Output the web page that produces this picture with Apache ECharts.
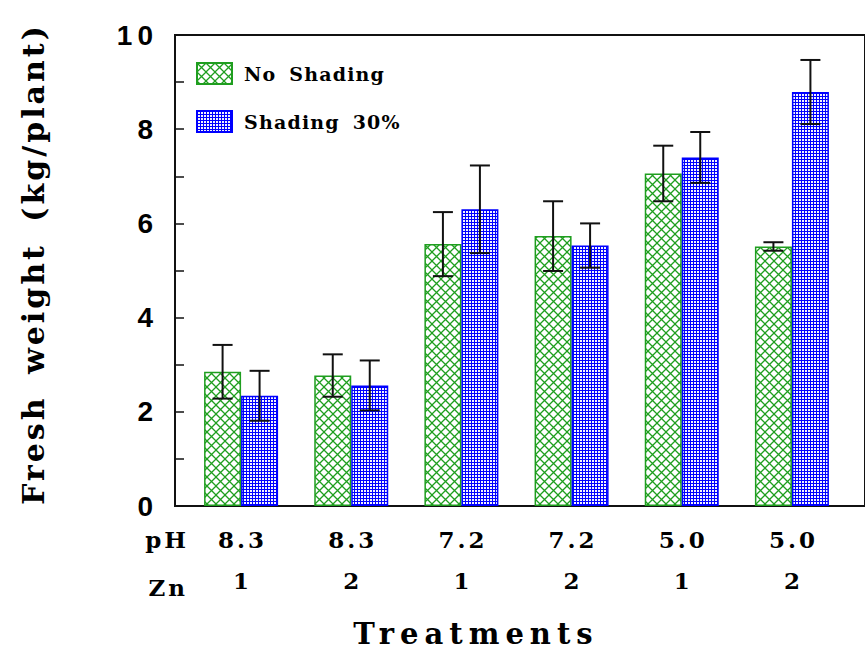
<!DOCTYPE html>
<html>
<head>
<meta charset="utf-8">
<script src="https://cdn.jsdelivr.net/npm/echarts@6/dist/echarts.min.js"></script>
<style>
  html, body { margin: 0; padding: 0; background: #fff; }
  #chart { width: 865px; height: 661px; }
  #chart text[style*="30px"] { letter-spacing: 3px; word-spacing: 8px; }
  #chart text[style*="29px"] { letter-spacing: 6px; }
  #chart text[style*="28px"] { letter-spacing: 5px; }
  #chart text[style*="23px"] { letter-spacing: 3px; }
  #chart text[style*="19px"] { letter-spacing: 1.2px; word-spacing: 5px; }
</style>
</head>
<body>
<div id="chart"></div>
<script>
// ---- data ----
const phLabels = ['8.3', '8.3', '7.2', '7.2', '5.0', '5.0'];
const znLabels = ['1', '2', '1', '2', '1', '2'];
const noShading = [2.85, 2.77, 5.56, 5.73, 7.06, 5.51];
const noShadingErr = [0.57, 0.45, 0.68, 0.74, 0.59, 0.09];
const shading30 = [2.34, 2.56, 6.30, 5.53, 7.40, 8.79];
const shading30Err = [0.53, 0.53, 0.93, 0.47, 0.54, 0.68];
const seriesNames = ['No Shading', 'Shading 30%'];
const yMin = 0, yMax = 10, yStep = 2;

// ---- style ----
const BAR_W = 37;
const serif = 'DejaVu Serif';
const sans = 'Liberation Sans';

function greenPattern() {
  const c = document.createElement('canvas');
  c.width = 9; c.height = 9;
  const g = c.getContext('2d');
  g.fillStyle = '#ffffff'; g.fillRect(0, 0, 9, 9);
  g.strokeStyle = '#1f9e1f'; g.lineWidth = 1.3;
  g.beginPath();
  g.moveTo(-1, -1); g.lineTo(10, 10);
  g.moveTo(10, -1); g.lineTo(-1, 10);
  g.stroke();
  return { image: c, repeat: 'repeat', imageWidth: 9, imageHeight: 9 };
}
function bluePattern() {
  const c = document.createElement('canvas');
  c.width = 3; c.height = 3;
  const g = c.getContext('2d');
  g.fillStyle = '#f2f2ff'; g.fillRect(0, 0, 3, 3);
  g.fillStyle = '#0000ff';
  g.fillRect(0, 0, 3, 1);
  g.fillRect(0, 0, 1, 3);
  return { image: c, repeat: 'repeat', imageWidth: 3, imageHeight: 3 };
}

function errSeries(name, vals, errs, side) {
  return {
    type: 'custom',
    name: name + ' err',
    xAxisIndex: 1, yAxisIndex: 1,
    z: 5,
    silent: true,
    data: vals.map((v, i) => [i, v - errs[i], v + errs[i]]),
    encode: { x: 0, y: [1, 2] },
    renderItem: function (params, api) {
      const lo = api.coord([api.value(0), api.value(1)]);
      const hi = api.coord([api.value(0), api.value(2)]);
      const x = lo[0] + side * BAR_W / 2;
      const cap = 10;
      const st = { stroke: '#111', lineWidth: 2 };
      return {
        type: 'group',
        children: [
          { type: 'line', shape: { x1: x, y1: lo[1], x2: x, y2: hi[1] }, style: st },
          { type: 'line', shape: { x1: x - cap, y1: lo[1], x2: x + cap, y2: lo[1] }, style: st },
          { type: 'line', shape: { x1: x - cap, y1: hi[1], x2: x + cap, y2: hi[1] }, style: st }
        ]
      };
    }
  };
}

const chart = echarts.init(document.getElementById('chart'), null, { renderer: 'svg' });
const labelRow = {
  fontFamily: serif, fontWeight: 'bold', fontSize: 23, color: '#000'
};

chart.setOption({
  animation: false,
  backgroundColor: '#fff',
  grid: [
    { left: 175, top: 35, right: -2, bottom: 155, show: true, borderColor: '#111', borderWidth: 2, backgroundColor: 'transparent' },
    { left: 186, top: 35, right: 18, bottom: 155 }
  ],
  legend: {
    data: seriesNames,
    orient: 'vertical',
    left: 191, top: 57,
    itemWidth: 35, itemHeight: 21, itemGap: 25,
    icon: 'rect',
    textStyle: { fontFamily: serif, fontWeight: 'bold', fontSize: 19, color: '#000', padding: [0, 0, 0, 7] }
  },
  xAxis: [
    { gridIndex: 0, type: 'value', show: false, min: 0, max: 1 },
    { gridIndex: 1, type: 'category', data: phLabels, axisLine: { show: false }, axisTick: { show: false }, axisLabel: { show: false }, splitLine: { show: false } },
    {
      gridIndex: 1, type: 'category', data: phLabels, position: 'bottom', offset: 33,
      axisLine: { show: false }, axisTick: { show: false },
      axisLabel: Object.assign({ interval: 0, margin: 0, verticalAlign: 'middle', padding: [0, 0, 0, 3] }, labelRow),
      name: 'pH', nameLocation: 'start', nameGap: -3,
      nameTextStyle: Object.assign({ verticalAlign: 'middle' }, labelRow)
    },
    {
      gridIndex: 1, type: 'category', data: znLabels, position: 'bottom', offset: 81,
      axisLine: { show: false }, axisTick: { show: false },
      axisLabel: Object.assign({ interval: 0, margin: -7, verticalAlign: 'middle', padding: [0, 0, 0, 3] }, labelRow),
      name: 'Zn', nameLocation: 'start', nameGap: -2,
      nameTextStyle: Object.assign({ verticalAlign: 'middle' }, labelRow)
    }
  ],
  yAxis: [
    {
      gridIndex: 0, type: 'value', min: yMin, max: yMax, interval: yStep,
      axisLine: { show: false },
      axisTick: { show: true, inside: true, length: 9, lineStyle: { color: '#111', width: 1.5 } },
      minorTick: { show: true, splitNumber: 2, length: 9, lineStyle: { color: '#111', width: 1.5 } },
      splitLine: { show: false },
      axisLabel: { fontFamily: sans, fontWeight: 'bold', fontSize: 28, color: '#000', margin: 17 }
    },
    { gridIndex: 1, type: 'value', min: yMin, max: yMax, show: false }
  ],
  graphic: [
    {
      type: 'text', x: 33, y: 264, rotation: Math.PI / 2,
      style: { text: 'Fresh weight (kg/plant)', fontFamily: serif, fontWeight: 'bold', fontSize: 30, fill: '#000', textAlign: 'center', textVerticalAlign: 'middle' }
    },
    {
      type: 'text', x: 476, y: 634,
      style: { text: 'Treatments', fontFamily: serif, fontWeight: 'bold', fontSize: 29, fill: '#000', textAlign: 'center', textVerticalAlign: 'middle' }
    }
  ],
  series: [
    {
      name: seriesNames[0], type: 'bar', xAxisIndex: 1, yAxisIndex: 1,
      data: noShading, barWidth: BAR_W, barGap: '0%',
      itemStyle: { color: greenPattern(), borderColor: '#1f9e1f', borderWidth: 1.5 }
    },
    {
      name: seriesNames[1], type: 'bar', xAxisIndex: 1, yAxisIndex: 1,
      data: shading30, barWidth: BAR_W, barGap: '0%',
      itemStyle: { color: bluePattern(), borderColor: '#0000ff', borderWidth: 1.5 }
    },
    errSeries(seriesNames[0], noShading, noShadingErr, -1),
    errSeries(seriesNames[1], shading30, shading30Err, 1)
  ]
});
</script>
</body>
</html>
